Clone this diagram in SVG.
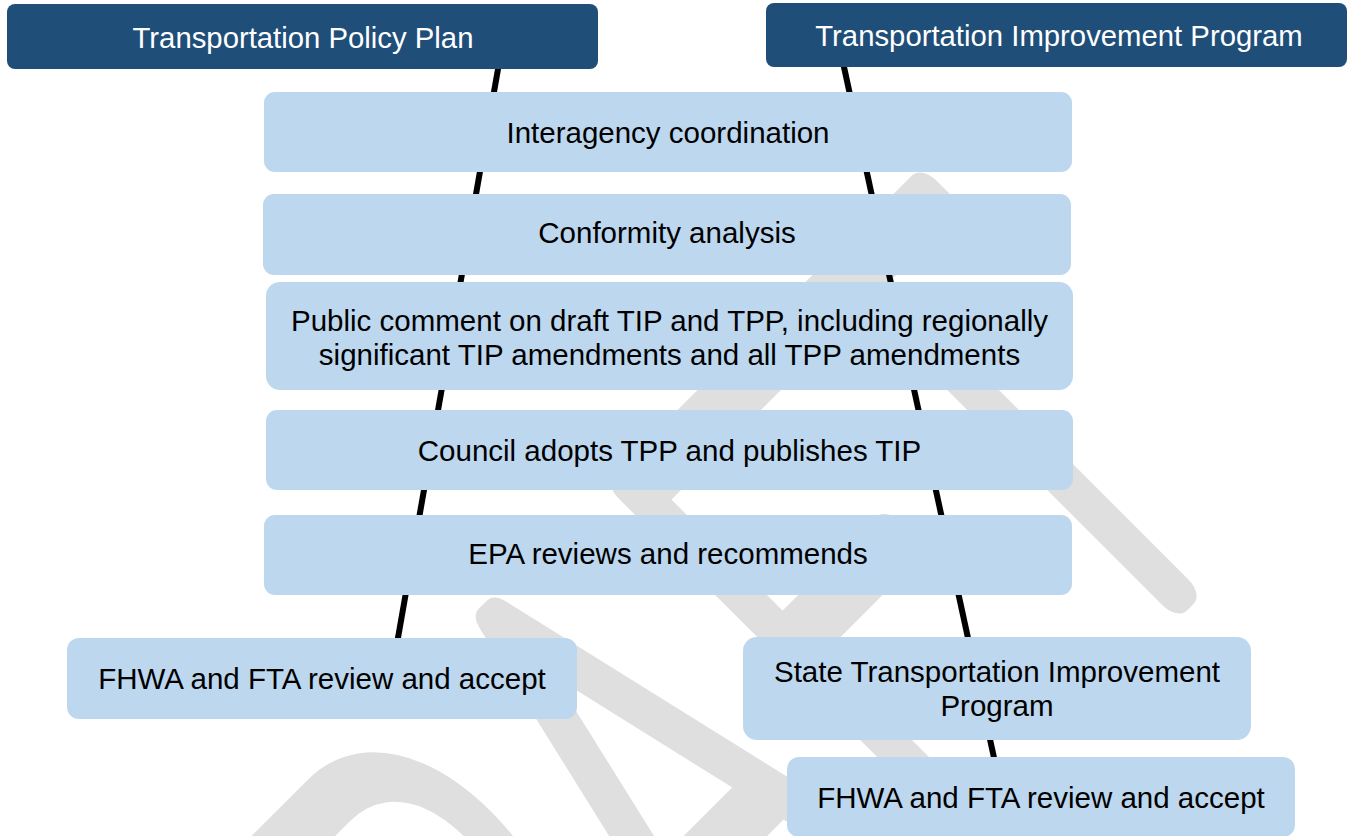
<svg xmlns="http://www.w3.org/2000/svg" width="1349" height="836" viewBox="0 0 1349 836">
  <style>
    .hdr { fill: #1f4e79; }
    .box { fill: #bdd7ee; }
    .t { font-family: "Liberation Sans", Arial, sans-serif; font-size: 29.5px; text-anchor: middle; fill: #000000; }
    .th { font-family: "Liberation Sans", Arial, sans-serif; font-size: 29.3px; text-anchor: middle; fill: #ffffff; }
    .wm { font-family: Roboto, Lato, Inter, "Noto Sans", sans-serif; font-weight: 100; font-size: 647px; fill: #dfdfdf; stroke: #dfdfdf; stroke-width: 42; stroke-linejoin: round; text-anchor: middle; }
    .conn { stroke: #000000; stroke-width: 6; fill: none; }
  </style>
  <rect width="1349" height="836" fill="#ffffff"/>

  <g id="watermark" transform="rotate(-45)">
    <text class="wm" transform="scale(0.62,1)" x="-1000 -534 -139 280 665" y="1250">DRAFT</text>
  </g>

  <g id="connectors">
    <line class="conn" x1="499.6" y1="60" x2="394.1" y2="660"/>
    <line class="conn" x1="840.3" y1="50" x2="1001" y2="790"/>
  </g>

  <g id="tpp">
    <rect class="hdr" x="7" y="4" width="591" height="65" rx="8"/>
    <text class="th" x="303" y="48.3">Transportation Policy Plan</text>
  </g>
  <g id="tip">
    <rect class="hdr" x="766" y="3" width="581" height="64" rx="8"/>
    <text class="th" x="1059" y="45.7">Transportation Improvement Program</text>
  </g>

  <g id="interagency">
    <rect class="box" x="264" y="92" width="808" height="80" rx="11"/>
    <text class="t" x="668" y="142.5">Interagency coordination</text>
  </g>
  <g id="conformity">
    <rect class="box" x="263" y="194" width="808" height="81" rx="11"/>
    <text class="t" x="667" y="243">Conformity analysis</text>
  </g>
  <g id="public-comment">
    <rect class="box" x="266" y="282" width="807" height="108" rx="14"/>
    <text class="t" x="669.5" y="331">Public comment on draft TIP and TPP, including regionally</text>
    <text class="t" x="669.5" y="364.5">significant TIP amendments and all TPP amendments</text>
  </g>
  <g id="council">
    <rect class="box" x="266" y="410" width="807" height="80" rx="11"/>
    <text class="t" x="669.5" y="461">Council adopts TPP and publishes TIP</text>
  </g>
  <g id="epa">
    <rect class="box" x="264" y="515" width="808" height="80" rx="11"/>
    <text class="t" x="668" y="563.5">EPA reviews and recommends</text>
  </g>
  <g id="fhwa-tpp">
    <rect class="box" x="67" y="638" width="510" height="81" rx="12"/>
    <text class="t" x="322" y="689">FHWA and FTA review and accept</text>
  </g>
  <g id="stip">
    <rect class="box" x="743" y="637" width="508" height="103" rx="14"/>
    <text class="t" x="997" y="681.7">State Transportation Improvement</text>
    <text class="t" x="997" y="716">Program</text>
  </g>
  <g id="fhwa-tip">
    <rect class="box" x="787" y="757" width="508" height="80" rx="12"/>
    <text class="t" x="1041" y="808.3">FHWA and FTA review and accept</text>
  </g>
</svg>
